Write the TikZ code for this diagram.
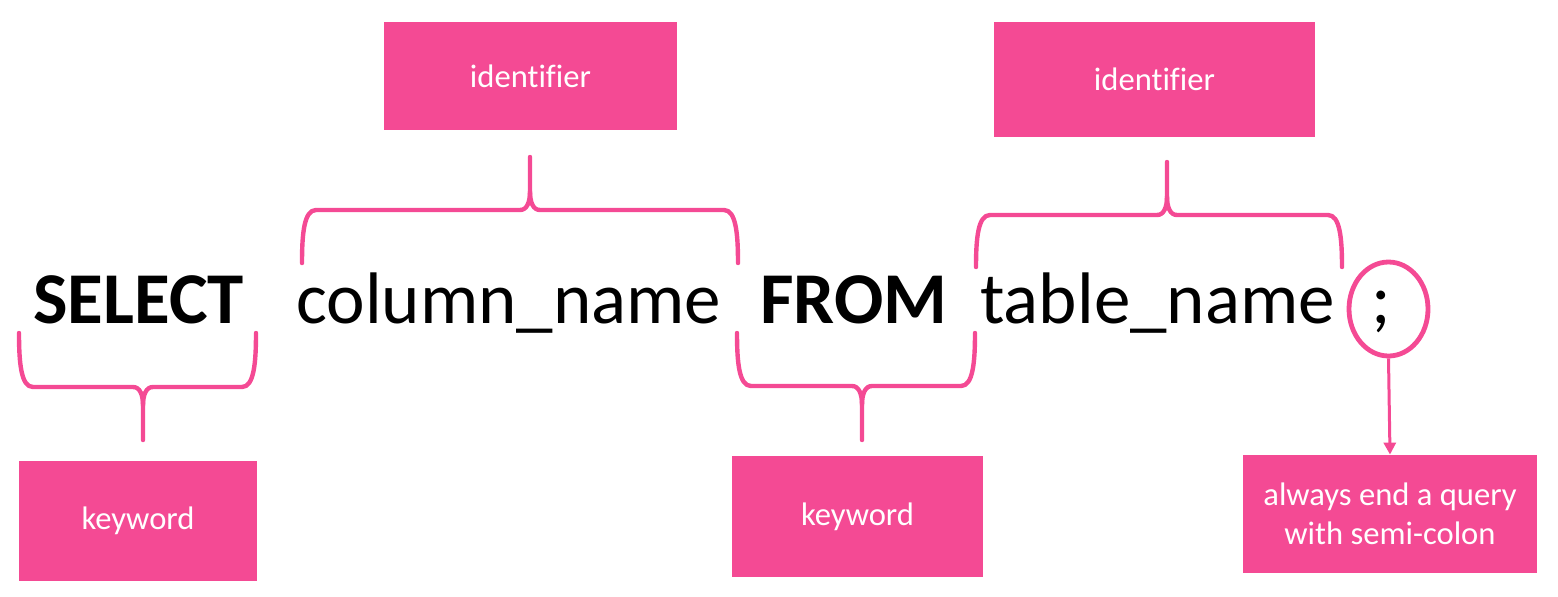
\documentclass[tikz,border=0pt]{standalone}
\usepackage{fontspec}
\setmainfont[Ligatures={NoCommon}]{Carlito}
\usetikzlibrary{shapes.geometric,arrows.meta}
\definecolor{pk}{RGB}{244,74,148}
\newcommand\sqlbrace[6]{%
  \draw[bracestyle] (#1,#4) .. controls (#1,{#5+0.45*(#4-#5)}) and ({#1+2},#5) .. ({#1+14},#5)
    -- ({#2-10},#5) .. controls ({#2-3},#5) and (#2,{#5+0.15*(#6-#5)}) .. (#2,{#5+0.35*(#6-#5)}) -- (#2,#6);
  \draw[bracestyle] (#3,#4) .. controls (#3,{#5+0.45*(#4-#5)}) and ({#3-2},#5) .. ({#3-14},#5)
    -- ({#2+10},#5) .. controls ({#2+3},#5) and (#2,{#5+0.15*(#6-#5)}) .. (#2,{#5+0.35*(#6-#5)});
}
\begin{document}
\begin{tikzpicture}[x=0.5pt,y=-0.5pt,
  pinkbox/.style={fill=pk, text=white, inner sep=0pt, align=center,
    font=\fontsize{16.3}{19.5}\selectfont},
  sqltext/.style={inner sep=0pt, anchor=base west, font=\fontsize{36.5}{40}\selectfont},
  bracestyle/.style={draw=pk, line width=2.2pt, line cap=round, line join=round},
  ring/.style={draw=pk, line width=2.4pt, ellipse, inner sep=0pt, minimum width=39.5pt, minimum height=47pt},
  pointer/.style={draw=pk, line width=1.5pt, -{Triangle[length=6pt,width=6pt]}}]
\useasboundingbox (0,0) rectangle (1558,596);
% boxes
\node[pinkbox, minimum width=146.5pt, minimum height=54pt] (id1) at (530.5,76) {identifier};
\node[pinkbox, minimum width=160.5pt, minimum height=57.5pt] (id2) at (1154.5,79.5) {identifier};
\node[pinkbox, minimum width=119pt, minimum height=60pt] (kw1) at (138,521) {keyword};
\node[pinkbox, minimum width=125.5pt, minimum height=60.5pt] (kw2) at (857.5,516.5) {keyword};
\node[pinkbox, minimum width=147pt, minimum height=59pt] (note) at (1390,514) {always end a query\\with semi-colon};
% sql text
\node[sqltext, font=\fontsize{36.5}{40}\selectfont\bfseries] (sel) at (33,323) {SELECT};
\node[sqltext] (col) at (296,323) {column\_name};
\node[sqltext, font=\fontsize{36.5}{40}\selectfont\bfseries] (from) at (760,323) {FROM};
\node[sqltext] (tbl) at (980,323) {table\_name};
\node[inner sep=0pt, anchor=base, font=\fontsize{36.5}{40}\selectfont] (semi) at (1381,323) {;};
% braces
\sqlbrace{19}{143}{256}{333}{387}{440}
\sqlbrace{302}{530}{738}{263}{210}{157}
\sqlbrace{737}{862}{975}{333}{386}{440}
\sqlbrace{976}{1167}{1342}{267}{215}{162}
% ring and arrow
\node[ring] (ring) at (1388.5,309) {};
\draw[pointer] (ring.south) -- (note.north);
\end{tikzpicture}
\end{document}
